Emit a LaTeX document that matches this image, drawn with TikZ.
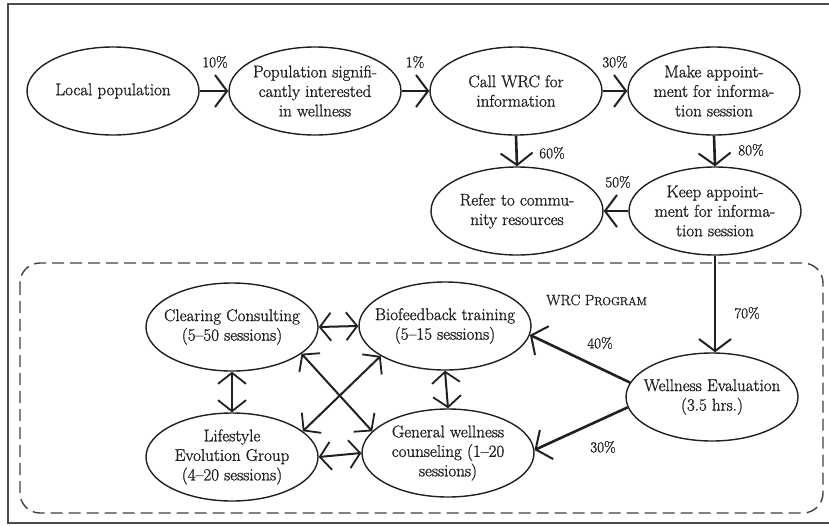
\documentclass[tikz,border=0pt]{standalone}
\usepackage{fontspec}
\newfontfamily\inkfont[Ligatures=TeX,RawFeature={embolden=1.2}]{Latin Modern Roman}
\usetikzlibrary{shapes.geometric,arrows.meta}
\definecolor{ink}{rgb}{0.13,0.12,0.12}
\begin{document}
\begin{tikzpicture}[x=1pt,y=-1pt,
  ell/.style={draw=ink,line width=1.4pt,ellipse,minimum width=172pt,minimum height=88pt,inner xsep=-30pt,inner ysep=-12pt,align=center,text=ink,font=\inkfont\fontsize{17}{19.5}\selectfont},
  pct/.style={text=ink,font=\inkfont\fontsize{15}{17}\selectfont,inner sep=0pt},
  flow/.style={draw=ink,line width=2.6pt,-{Straight Barb[length=12pt,width=32pt,line width=2pt]}},
  link/.style={draw=ink,line width=2pt,{Straight Barb[length=11pt,width=28pt,line width=1.8pt]}-{Straight Barb[length=11pt,width=28pt,line width=1.8pt]}}
]
\useasboundingbox (0,0) rectangle (829,525);
\draw[draw=ink!80,line width=1.6pt] (8,4) rectangle (840,523);
\draw[draw=ink!85,line width=1.4pt,dash pattern=on 12pt off 6pt,rounded corners=20pt] (20,263) rectangle (823,513);

\node[ell] (local) at (113,91) {Local population};
\node[ell] (pop) at (315,91) {Population signifi-\\cantly interested\\in wellness};
\node[ell] (call) at (516,91) {Call WRC for\\information};
\node[ell] (make) at (714,91) {Make appoint-\\ment for informa-\\tion session};
\node[ell] (refer) at (517,211) {Refer to commu-\\nity resources};
\node[ell] (keep) at (715,211) {Keep appoint-\\ment for informa-\\tion session};
\node[ell] (clear) at (232,327) {Clearing Consulting\\(5--50 sessions)};
\node[ell] (bio) at (445,326) {Biofeedback training\\(5--15 sessions)};
\node[ell] (life) at (232,457) {Lifestyle\\Evolution Group\\(4--20 sessions)};
\node[ell] (gen) at (448,453) {General wellness\\counseling (1--20\\sessions)};
\node[ell] (well) at (712,397) {Wellness Evaluation\\(3.5 hrs.)};

\node[pct] (p10) at (215,62) {10\%};
\node[pct] (p1) at (415,62) {1\%};
\node[pct] (p30a) at (615,62) {30\%};
\node[pct] (p60) at (552,153) {60\%};
\node[pct] (p80) at (751,150) {80\%};
\node[pct] (p50) at (618,182) {50\%};
\node[pct] (p70) at (747,313) {70\%};
\node[pct] (p40) at (600,343) {40\%};
\node[pct] (p30b) at (603,447) {30\%};
\node[pct,anchor=west] (prog) at (546,300) {WRC P{\fontsize{11.5}{13}\selectfont ROGRAM}};

\draw[flow] (local.east) -- (pop.west);
\draw[flow] (pop.east) -- (call.west);
\draw[flow] (call.east) -- (make.west);
\draw[flow] (call.south) -- (refer.north);
\draw[flow] (make.south) -- (keep.north);
\draw[flow] (keep.west) -- (refer.east);
\draw[flow] (keep.south) -- (keep.south |- well.north);
\draw[flow] (well.170) -- (bio.-6);
\draw[flow] (well.187) -- (gen.2);

\draw[link] (clear.east) -- (bio.west);
\draw[link] (life.east) -- (gen.west);
\draw[link] (clear.south) -- (life.north);
\draw[link] (bio.south) -- (gen.north);
\draw[link] (clear.-21) -- (gen.164);
\draw[link] (bio.205) -- (life.20);
\end{tikzpicture}
\end{document}
